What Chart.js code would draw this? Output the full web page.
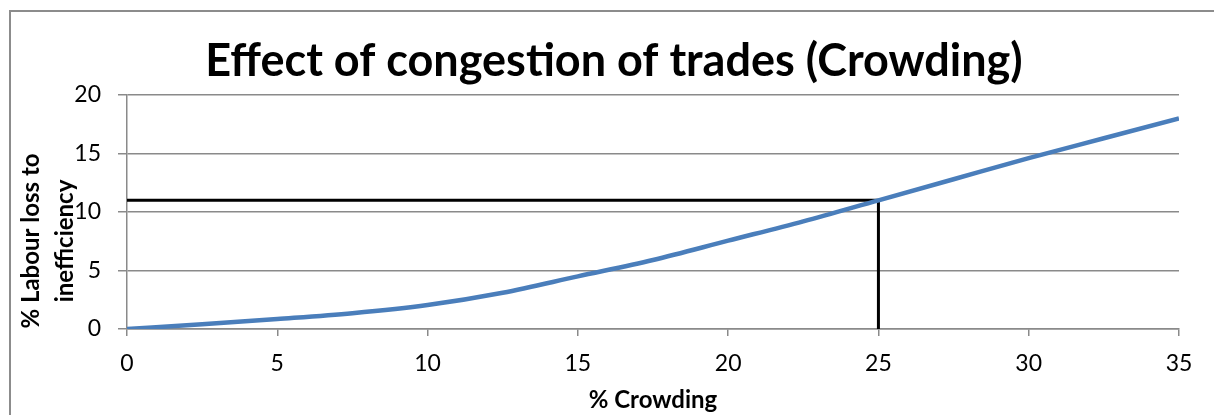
<!DOCTYPE html>
<html>
<head>
<meta charset="utf-8">
<script src="https://cdn.jsdelivr.net/npm/chart.js@4.4.1/dist/chart.umd.min.js"></script>
<style>
  html, body { margin: 0; padding: 0; background: #fff; overflow: hidden; }
  #wrap { position: absolute; left: 0; top: 0; width: 1214px; height: 415px; }
  #frame { position: absolute; left: 9px; top: 10px; width: 1240px; height: 440px; border: 2px solid #8c8c8c; box-sizing: border-box; }
</style>
</head>
<body>
<div id="frame"></div>
<div id="wrap"><canvas id="c"></canvas></div>
<script>
const chartTitle = 'Effect of congestion of trades (Crowding)';
const xAxisTitle = '% Crowding';
const yAxisTitleLines = ['% Labour loss to', 'inefficiency'];
const crowding = [0, 2.5, 5, 7.5, 10, 12.5, 15, 17.5, 20, 22.5, 25, 27.5, 30, 32.5, 35];
const labourLoss = [0, 0.4, 0.85, 1.35, 2.05, 3.1, 4.5, 5.9, 7.55, 9.2, 11.0, 12.8, 14.6, 16.3, 18.0];
const guideX = [0, 25, 25];
const guideY = [11, 11, 0];
const xTicks = [0, 5, 10, 15, 20, 25, 30, 35];
const yTicks = [0, 5, 10, 15, 20];

const FONT = 'Lato, "Open Sans", sans-serif';
const GRID = '#8a8a8a';

const yTitlePlugin = {
  id: 'yTitle',
  afterDraw(chart) {
    const ctx = chart.ctx;
    ctx.save();
    ctx.fillStyle = '#000';
    ctx.font = 'bold 24px ' + FONT;
    ctx.textAlign = 'center';
    ctx.textBaseline = 'middle';
    const cy = 241;
    const xs = [31, 65];
    yAxisTitleLines.forEach((t, i) => {
      ctx.save();
      ctx.translate(xs[i], cy);
      ctx.rotate(-Math.PI / 2);
      ctx.fillText(t, 0, 0);
      ctx.restore();
    });
    ctx.restore();
  }
};

new Chart(document.getElementById('c'), {
  type: 'line',
  data: {
    datasets: [
      {
        data: crowding.map((x, i) => ({ x: x, y: labourLoss[i] })),
        borderColor: '#4a7ebb',
        borderWidth: 4.5,
        pointRadius: 0,
        cubicInterpolationMode: 'monotone',
        order: 0
      },
      {
        data: guideX.map((x, i) => ({ x: x, y: guideY[i] })),
        borderColor: '#000',
        borderWidth: 3,
        pointRadius: 0,
        tension: 0,
        order: 1
      }
    ]
  },
  options: {
    responsive: true,
    maintainAspectRatio: false,
    animation: false,
    events: [],
    layout: { padding: { left: 14, right: 0, top: 12, bottom: 0 } },
    plugins: {
      legend: { display: false },
      tooltip: { enabled: false },
      title: {
        display: true,
        text: chartTitle,
        color: '#000',
        font: { family: FONT, size: 45, weight: 'bold', lineHeight: 1.2 },
        padding: { top: 22, bottom: 7 }
      }
    },
    scales: {
      x: {
        type: 'linear',
        min: 0, max: 35,
        afterBuildTicks(scale) { scale.ticks = xTicks.map(v => ({ value: v })); },
        afterFit(scale) { scale.height = 86; },
        grid: { drawOnChartArea: false, drawTicks: true, tickLength: 7, color: GRID, lineWidth: 1.5 },
        border: { display: true, color: GRID, width: 1.5 },
        ticks: { color: '#000', font: { family: FONT, size: 23 }, padding: 14, maxRotation: 0 },
        title: { display: true, text: xAxisTitle, color: '#000', font: { family: FONT, size: 24, weight: 'bold' }, padding: { top: 0, bottom: 0 } }
      },
      y: {
        type: 'linear',
        min: 0, max: 20,
        afterBuildTicks(scale) { scale.ticks = yTicks.map(v => ({ value: v })); },
        afterFit(scale) { scale.width = 113; },
        grid: { drawOnChartArea: true, drawTicks: true, tickLength: 9, color: GRID, lineWidth: 1.5 },
        border: { display: true, color: GRID, width: 1.5 },
        ticks: { color: '#000', font: { family: FONT, size: 23 }, padding: 17 }
      },
      yRightSpace: {
        type: 'linear',
        position: 'right',
        min: 0, max: 1,
        afterFit(scale) { scale.width = 35; },
        grid: { display: false },
        border: { display: false },
        ticks: { display: false }
      }
    }
  },
  plugins: [yTitlePlugin]
});
</script>
</body>
</html>
